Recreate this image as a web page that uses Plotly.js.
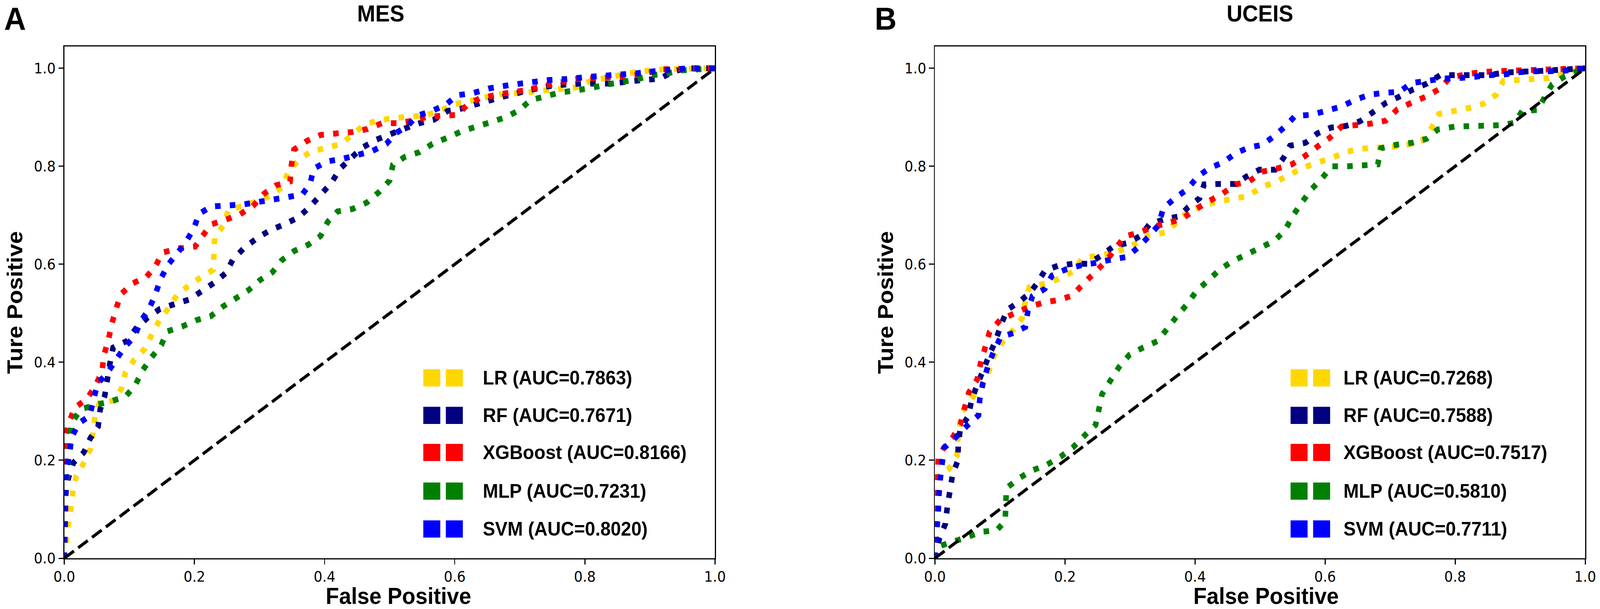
<!DOCTYPE html>
<html>
<head>
<meta charset="utf-8">
<script src="https://cdn.plot.ly/plotly-3.0.1.min.js"></script>
<style>
  html, body { margin: 0; padding: 0; background: #fff; overflow: hidden; }
  #myDiv { width: 4328px; height: 1560px; transform-origin: 0 0; }
</style>
</head>
<body>
<div id="myDiv"></div>
<script>
const config = {
    displayModeBar: false,
    staticPlot: true
};

// ---- data ----
var models = ['LR', 'RF', 'XGBoost', 'MLP', 'SVM'];
var colors = ['#FFD700', '#000080', '#FF0000', '#008000', '#0000FF'];
var mesAuc = ['0.7863', '0.7671', '0.8166', '0.7231', '0.8020'];
var uceisAuc = ['0.7268', '0.7588', '0.7517', '0.5810', '0.7711'];
var tickVals = [0, 0.2, 0.4, 0.6, 0.8, 1.0];
var diagX = [0, 1];
var diagY = [0, 1];

// MES
var mesLrX = [0, 0.003, 0.006, 0.01, 0.013, 0.018, 0.03, 0.04, 0.044, 0.047, 0.054, 0.077, 0.088, 0.094, 0.108, 0.124, 0.135, 0.146, 0.161, 0.174, 0.193, 0.212, 0.229, 0.230, 0.231, 0.245, 0.252, 0.275, 0.297, 0.319, 0.336, 0.344, 0.361, 0.380, 0.403, 0.426, 0.443, 0.462, 0.485, 0.508, 0.532, 0.555, 0.579, 0.600, 0.623, 0.645, 0.669, 0.708, 0.744, 0.787, 0.81, 0.85, 0.88, 0.92, 1];
var mesLrY = [0, 0.035, 0.067, 0.1, 0.134, 0.166, 0.195, 0.223, 0.256, 0.289, 0.317, 0.322, 0.347, 0.379, 0.406, 0.428, 0.458, 0.485, 0.512, 0.539, 0.558, 0.575, 0.589, 0.623, 0.656, 0.680, 0.711, 0.719, 0.729, 0.741, 0.759, 0.789, 0.814, 0.831, 0.837, 0.846, 0.865, 0.886, 0.894, 0.899, 0.901, 0.904, 0.914, 0.927, 0.933, 0.94, 0.947, 0.95, 0.956, 0.961, 0.975, 0.985, 0.993, 0.998, 1];

var mesRfX = [0, 0.002, 0.006, 0.014, 0.03, 0.04, 0.052, 0.055, 0.062, 0.066, 0.07, 0.075, 0.097, 0.11, 0.128, 0.147, 0.17, 0.192, 0.211, 0.231, 0.249, 0.259, 0.277, 0.297, 0.317, 0.339, 0.360, 0.378, 0.394, 0.411, 0.423, 0.440, 0.458, 0.479, 0.502, 0.523, 0.546, 0.568, 0.589, 0.611, 0.634, 0.677, 0.716, 0.751, 0.795, 0.841, 0.881, 0.916, 0.936, 0.959, 1];
var mesRfY = [0, 0.13, 0.163, 0.195, 0.216, 0.245, 0.269, 0.303, 0.331, 0.364, 0.397, 0.43, 0.444, 0.469, 0.491, 0.509, 0.519, 0.528, 0.545, 0.563, 0.583, 0.610, 0.634, 0.654, 0.670, 0.682, 0.696, 0.718, 0.742, 0.767, 0.794, 0.816, 0.838, 0.854, 0.866, 0.877, 0.888, 0.895, 0.913, 0.918, 0.927, 0.943, 0.956, 0.965, 0.969, 0.969, 0.975, 0.979, 0.994, 1.0, 1];

var mesXgbX = [0, 0.001, 0.007, 0.016, 0.035, 0.048, 0.058, 0.061, 0.068, 0.073, 0.08, 0.087, 0.105, 0.126, 0.14, 0.151, 0.175, 0.201, 0.212, 0.225, 0.248, 0.270, 0.290, 0.307, 0.325, 0.347, 0.349, 0.353, 0.373, 0.394, 0.418, 0.443, 0.466, 0.488, 0.512, 0.535, 0.558, 0.581, 0.604, 0.620, 0.639, 0.669, 0.708, 0.747, 0.787, 0.841, 0.88, 0.92, 1];
var mesXgbY = [0, 0.243, 0.277, 0.307, 0.326, 0.352, 0.382, 0.415, 0.447, 0.479, 0.511, 0.539, 0.561, 0.574, 0.596, 0.624, 0.632, 0.636, 0.657, 0.681, 0.691, 0.702, 0.719, 0.744, 0.761, 0.769, 0.802, 0.834, 0.852, 0.864, 0.867, 0.870, 0.876, 0.888, 0.888, 0.893, 0.901, 0.903, 0.905, 0.926, 0.939, 0.947, 0.955, 0.967, 0.978, 0.982, 0.986, 0.998, 1];

var mesMlpX = [0, 0.001, 0.003, 0.005, 0.011, 0.025, 0.048, 0.071, 0.094, 0.109, 0.12, 0.134, 0.149, 0.158, 0.181, 0.203, 0.225, 0.244, 0.263, 0.283, 0.301, 0.320, 0.334, 0.353, 0.375, 0.394, 0.405, 0.420, 0.443, 0.465, 0.484, 0.500, 0.505, 0.523, 0.546, 0.566, 0.588, 0.610, 0.633, 0.653, 0.678, 0.70, 0.716, 0.74, 0.763, 0.787, 0.81, 0.834, 0.857, 0.881, 0.904, 0.928, 0.951, 1];
var mesMlpY = [0, 0.113, 0.146, 0.179, 0.275, 0.304, 0.313, 0.32, 0.33, 0.353, 0.383, 0.41, 0.435, 0.463, 0.473, 0.486, 0.494, 0.514, 0.53, 0.547, 0.568, 0.584, 0.608, 0.627, 0.640, 0.658, 0.687, 0.708, 0.713, 0.726, 0.748, 0.771, 0.803, 0.819, 0.829, 0.846, 0.858, 0.871, 0.881, 0.889, 0.9, 0.915, 0.935, 0.943, 0.951, 0.955, 0.96, 0.967, 0.972, 0.978, 0.986, 0.99, 0.996, 1];

var mesSvmX = [0, 0.003, 0.008, 0.011, 0.022, 0.039, 0.045, 0.051, 0.067, 0.08, 0.092, 0.108, 0.117, 0.13, 0.14, 0.148, 0.16, 0.175, 0.188, 0.199, 0.207, 0.226, 0.250, 0.274, 0.297, 0.320, 0.343, 0.366, 0.378, 0.383, 0.404, 0.427, 0.450, 0.473, 0.495, 0.510, 0.528, 0.542, 0.565, 0.587, 0.603, 0.627, 0.653, 0.685, 0.72, 0.744, 0.771, 0.802, 0.841, 0.881, 0.92, 0.959, 1];
var mesSvmY = [0, 0.181, 0.213, 0.246, 0.275, 0.291, 0.324, 0.356, 0.38, 0.406, 0.43, 0.453, 0.483, 0.508, 0.539, 0.57, 0.6, 0.625, 0.648, 0.673, 0.703, 0.718, 0.720, 0.722, 0.727, 0.732, 0.737, 0.743, 0.765, 0.795, 0.810, 0.815, 0.823, 0.831, 0.846, 0.868, 0.883, 0.903, 0.913, 0.926, 0.945, 0.949, 0.959, 0.966, 0.972, 0.976, 0.978, 0.982, 0.986, 0.99, 0.996, 1, 1];

// UCEIS
var ucLrX = [0, 0.005, 0.022, 0.034, 0.035, 0.038, 0.042, 0.058, 0.072, 0.083, 0.091, 0.104, 0.121, 0.134, 0.139, 0.145, 0.168, 0.19, 0.212, 0.227, 0.249, 0.273, 0.295, 0.317, 0.329, 0.355, 0.372, 0.390, 0.412, 0.436, 0.459, 0.481, 0.502, 0.525, 0.546, 0.566, 0.589, 0.612, 0.634, 0.657, 0.681, 0.705, 0.727, 0.749, 0.764, 0.775, 0.799, 0.821, 0.844, 0.863, 0.874, 0.896, 0.920, 0.944, 0.968, 1];
var ucLrY = [0, 0.167, 0.183, 0.21, 0.241, 0.27, 0.299, 0.328, 0.352, 0.382, 0.413, 0.441, 0.467, 0.49, 0.523, 0.553, 0.56, 0.57, 0.585, 0.613, 0.617, 0.623, 0.633, 0.648, 0.659, 0.665, 0.686, 0.708, 0.720, 0.728, 0.734, 0.739, 0.757, 0.769, 0.783, 0.797, 0.808, 0.818, 0.830, 0.836, 0.838, 0.840, 0.844, 0.852, 0.879, 0.907, 0.913, 0.919, 0.928, 0.946, 0.974, 0.976, 0.978, 0.980, 0.989, 1];

var ucRfX = [0, 0.001, 0.007, 0.016, 0.019, 0.023, 0.027, 0.035, 0.036, 0.039, 0.051, 0.056, 0.064, 0.074, 0.083, 0.093, 0.101, 0.111, 0.128, 0.145, 0.157, 0.169, 0.189, 0.212, 0.236, 0.256, 0.275, 0.298, 0.317, 0.330, 0.353, 0.376, 0.389, 0.407, 0.414, 0.438, 0.462, 0.479, 0.499, 0.523, 0.536, 0.546, 0.570, 0.588, 0.609, 0.631, 0.654, 0.672, 0.693, 0.714, 0.734, 0.757, 0.777, 0.801, 0.827, 0.851, 0.875, 0.899, 0.923, 1];
var ucRfY = [0, 0.009, 0.041, 0.07, 0.104, 0.137, 0.17, 0.199, 0.233, 0.265, 0.289, 0.32, 0.351, 0.383, 0.413, 0.443, 0.474, 0.507, 0.522, 0.54, 0.561, 0.587, 0.597, 0.601, 0.601, 0.618, 0.637, 0.644, 0.659, 0.682, 0.692, 0.698, 0.716, 0.735, 0.763, 0.764, 0.764, 0.779, 0.793, 0.793, 0.817, 0.842, 0.848, 0.867, 0.879, 0.882, 0.892, 0.909, 0.929, 0.942, 0.956, 0.969, 0.986, 0.986, 0.986, 0.986, 0.991, 0.993, 0.994, 1];

var ucXgbX = [0, 0.005, 0.014, 0.027, 0.039, 0.045, 0.052, 0.065, 0.07, 0.077, 0.084, 0.1, 0.121, 0.143, 0.167, 0.19, 0.211, 0.228, 0.245, 0.262, 0.277, 0.292, 0.315, 0.335, 0.357, 0.379, 0.401, 0.420, 0.441, 0.462, 0.483, 0.503, 0.525, 0.549, 0.569, 0.588, 0.607, 0.625, 0.647, 0.670, 0.693, 0.711, 0.733, 0.755, 0.776, 0.792, 0.814, 0.838, 0.862, 0.886, 1];
var ucXgbY = [0, 0.204, 0.226, 0.246, 0.273, 0.304, 0.338, 0.365, 0.397, 0.429, 0.462, 0.486, 0.499, 0.512, 0.522, 0.527, 0.536, 0.56, 0.582, 0.605, 0.631, 0.657, 0.665, 0.676, 0.684, 0.692, 0.712, 0.728, 0.743, 0.763, 0.769, 0.789, 0.795, 0.804, 0.821, 0.840, 0.858, 0.881, 0.884, 0.887, 0.893, 0.916, 0.930, 0.942, 0.958, 0.981, 0.987, 0.992, 0.994, 0.995, 1];

var ucMlpX = [0, 0.005, 0.026, 0.049, 0.072, 0.095, 0.108, 0.109, 0.11, 0.129, 0.149, 0.171, 0.193, 0.212, 0.229, 0.247, 0.252, 0.257, 0.27, 0.283, 0.299, 0.32, 0.342, 0.357, 0.372, 0.388, 0.402, 0.420, 0.438, 0.457, 0.479, 0.501, 0.523, 0.538, 0.551, 0.564, 0.579, 0.595, 0.610, 0.634, 0.659, 0.681, 0.686, 0.710, 0.734, 0.756, 0.773, 0.799, 0.823, 0.847, 0.871, 0.892, 0.903, 0.927, 0.938, 0.949, 0.968, 0.990, 1];
var ucMlpY = [0, 0.024, 0.033, 0.043, 0.054, 0.057, 0.076, 0.11, 0.143, 0.163, 0.179, 0.19, 0.207, 0.226, 0.249, 0.272, 0.303, 0.335, 0.363, 0.39, 0.415, 0.43, 0.443, 0.468, 0.494, 0.519, 0.545, 0.567, 0.589, 0.606, 0.62, 0.634, 0.649, 0.669, 0.700, 0.726, 0.753, 0.775, 0.800, 0.800, 0.802, 0.804, 0.837, 0.844, 0.848, 0.856, 0.875, 0.881, 0.882, 0.883, 0.884, 0.889, 0.913, 0.915, 0.942, 0.967, 0.983, 0.995, 1];

var ucSvmX = [0, 0.001, 0.003, 0.005, 0.006, 0.008, 0.011, 0.014, 0.033, 0.049, 0.067, 0.069, 0.074, 0.081, 0.09, 0.101, 0.121, 0.139, 0.143, 0.15, 0.169, 0.18, 0.202, 0.225, 0.248, 0.272, 0.295, 0.313, 0.329, 0.344, 0.351, 0.369, 0.388, 0.404, 0.422, 0.443, 0.463, 0.482, 0.504, 0.523, 0.540, 0.554, 0.579, 0.601, 0.625, 0.647, 0.668, 0.692, 0.714, 0.733, 0.756, 0.779, 0.803, 0.827, 0.850, 0.874, 0.897, 0.921, 0.944, 0.967, 1];
var ucSvmY = [0, 0.026, 0.061, 0.093, 0.126, 0.16, 0.193, 0.225, 0.248, 0.27, 0.292, 0.325, 0.359, 0.39, 0.421, 0.451, 0.46, 0.472, 0.505, 0.535, 0.55, 0.577, 0.59, 0.598, 0.603, 0.61, 0.615, 0.635, 0.657, 0.680, 0.714, 0.735, 0.753, 0.779, 0.796, 0.808, 0.827, 0.838, 0.844, 0.863, 0.883, 0.903, 0.905, 0.913, 0.922, 0.936, 0.946, 0.950, 0.952, 0.970, 0.974, 0.979, 0.980, 0.982, 0.986, 0.987, 0.992, 0.994, 0.994, 0.995, 1];

var mesCurves = [[mesLrX, mesLrY], [mesRfX, mesRfY], [mesXgbX, mesXgbY], [mesMlpX, mesMlpY], [mesSvmX, mesSvmY]];
var ucCurves = [[ucLrX, ucLrY], [ucRfX, ucRfY], [ucXgbX, ucXgbY], [ucMlpX, ucMlpY], [ucSvmX, ucSvmY]];

// ---- page geometry (pixels of the 4328x1560 picture) ----
var W = 4328, H = 1560;
function px(x) { return x / W; }
function py(y) { return 1 - y / H; }

// stretch the fixed-size figure onto whatever viewport we actually get
var sx = document.documentElement.clientWidth / W;
var sy = window.innerHeight / H;
if (sx > 0 && sy > 0 && (Math.abs(sx - 1) > 0.002 || Math.abs(sy - 1) > 0.002)) {
    document.getElementById('myDiv').style.transform = 'scale(' + sx + ',' + sy + ')';
}

var boldFont = 'Liberation Sans, Arial, sans-serif';
var tickFont = 'DejaVu Sans, sans-serif';

var data = [];
function addPanel(curves, xa, ya) {
    for (var i = 0; i < curves.length; i++) {
        data.push({
            type: 'scatter',
            mode: 'lines',
            x: curves[i][0],
            y: curves[i][1],
            xaxis: xa,
            yaxis: ya,
            showlegend: false,
            line: {
                color: colors[i],
                width: 15,
                dash: '15px,25px',
                simplify: false
            }
        });
    }
    data.push({
        type: 'scatter',
        mode: 'lines',
        x: diagX,
        y: diagY,
        xaxis: xa,
        yaxis: ya,
        showlegend: false,
        line: {
            color: '#000000',
            width: 8,
            dash: '32px,14px'
        }
    });
}
addPanel(mesCurves, 'x', 'y');
addPanel(ucCurves, 'x2', 'y2');

function axis(domain, range) {
    return {
        domain: domain,
        range: range,
        showgrid: false,
        zeroline: false,
        showline: true,
        mirror: true,
        linecolor: '#000',
        linewidth: 3,
        ticks: 'outside',
        ticklen: 13,
        tickwidth: 3,
        tickcolor: '#000',
        tickvals: tickVals,
        tickformat: '.1f',
        tickfont: { family: tickFont, size: 37, color: '#000' }
    };
}

var yDom = [130 / H, 1441 / H];
var yRange = [0, 1.0446];

var annotations = [];
var shapes = [];
function text(t, x, y, size, opts) {
    var a = {
        text: t,
        xref: 'paper', yref: 'paper',
        x: px(x), y: py(y),
        xanchor: 'center', yanchor: 'middle',
        showarrow: false,
        font: { family: boldFont, size: size, color: '#000', weight: 'bold' }
    };
    for (var k in opts) a[k] = opts[k];
    annotations.push(a);
}

function panelText(left, letter, title, aucs, legendOff) {
    text(letter, left - 134, 0, 82, { yanchor: 'top' });
    text(title.name, left + title.dx, 0, 59, { yanchor: 'top' });
    text('False Positive', left + title.fx, 1527, 59);
    text('Ture Positive', left - 134, 775, 59, { textangle: -90 });
    var rows = [968, 1064, 1159, 1258, 1355];
    for (var i = 0; i < models.length; i++) {
        var sq = [left + legendOff.sq, left + legendOff.sq + 61];
        for (var j = 0; j < 2; j++) {
            shapes.push({
                type: 'rect',
                xref: 'paper', yref: 'paper',
                x0: px(sq[j]), x1: px(sq[j] + 46),
                y0: py(rows[i] + 22), y1: py(rows[i] - 22),
                fillcolor: colors[i],
                line: { width: 0 }
            });
        }
        text(models[i] + ' (AUC=' + aucs[i] + ')', left + legendOff.tx, rows[i], 50, { xanchor: 'left' });
    }
}

panelText(174, 'A', { name: 'MES', dx: 856, fx: 904 }, mesAuc, { sq: 971, tx: 1130 });
panelText(2529, 'B', { name: 'UCEIS', dx: 879, fx: 896 }, uceisAuc, { sq: 962, tx: 1103 });

var layout = {
    width: W,
    height: H,
    margin: { l: 0, r: 0, t: 0, b: 0, pad: 0 },
    paper_bgcolor: '#ffffff',
    plot_bgcolor: '#ffffff',
    hovermode: false,
    xaxis: Object.assign(axis([174 / W, 1934 / W], [0, 1]), { anchor: 'y' }),
    yaxis: Object.assign(axis(yDom, yRange), { anchor: 'x' }),
    xaxis2: Object.assign(axis([2529 / W, 4288 / W], [0, 1]), { anchor: 'y2' }),
    yaxis2: Object.assign(axis(yDom, yRange), { anchor: 'x2' }),
    annotations: annotations,
    shapes: shapes,
    font: { family: tickFont, size: 37, color: '#000' }
};

Plotly.newPlot('myDiv', data, layout, config);
</script>
</body>
</html>
